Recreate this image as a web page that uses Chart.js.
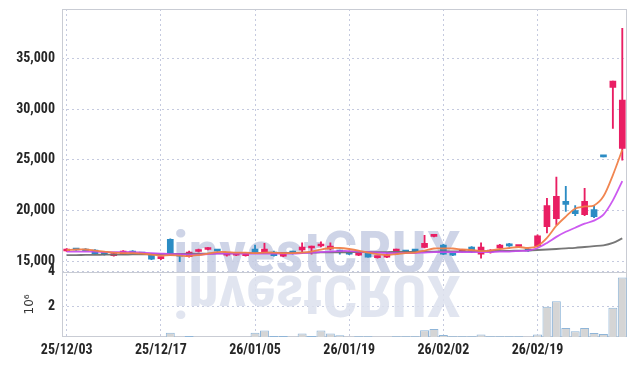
<!DOCTYPE html>
<html lang="en">
<head>
<meta charset="UTF-8">
<title>investCRUX candle chart</title>
<script src="https://cdn.jsdelivr.net/npm/chart.js"></script>
<style>
  html, body { margin: 0; padding: 0; background: #fff; }
  #wrap { width: 635px; height: 366px; position: relative; }
</style>
</head>
<body>
<div id="wrap"><canvas id="myChart"></canvas></div>
<script>
// trading days
const labels = [
  '25/12/03','25/12/04','25/12/05','25/12/08','25/12/09','25/12/10','25/12/11','25/12/12','25/12/15','25/12/16',
  '25/12/17','25/12/18','25/12/19','25/12/22','25/12/23','25/12/24','25/12/26','25/12/29','25/12/30','26/01/02',
  '26/01/05','26/01/06','26/01/07','26/01/08','26/01/09','26/01/12','26/01/13','26/01/14','26/01/15','26/01/16',
  '26/01/19','26/01/20','26/01/21','26/01/22','26/01/23','26/01/26','26/01/27','26/01/28','26/01/29','26/01/30',
  '26/02/02','26/02/03','26/02/04','26/02/05','26/02/06','26/02/09','26/02/10','26/02/11','26/02/12','26/02/13',
  '26/02/19','26/02/20','26/02/23','26/02/24','26/02/25','26/02/26','26/02/27','26/03/03','26/03/04','26/03/05'
];

const open = [
  16000,16150,16200,16100,15750,15550,15700,16000,15750,15700,
  15250,17150,15600,15450,15950,16150,16100,15600,15600,15550,
  16200,15900,15900,15500,15850,16100,16300,16500,16200,16000,
  15900,15600,15800,15350,15400,15850,15950,16050,16350,17450,
  16600,15700,15950,16400,15700,15900,16300,16700,16450,16200,
  16500,18400,19200,20900,20000,19600,20100,25400,32160,26130
];
const high = [
  16250,16200,16250,16150,15800,15800,16050,16050,15800,15750,
  15400,17200,15650,16000,16200,16350,16150,15800,15800,15800,
  16600,16750,16000,15650,16000,16800,16500,16900,16800,16100,
  16000,15800,15850,15450,15700,16200,16000,16150,17550,17600,
  16650,15750,16150,16450,16800,16150,16650,16750,16550,16250,
  17600,21200,23300,22400,20500,22200,20500,25400,32780,38000
];
const low = [
  15950,16050,16000,15700,15600,15500,15650,15750,15650,15150,
  15150,15550,14950,15400,15900,16100,15950,15500,15550,15500,
  15900,15850,15500,15450,15700,15800,15700,16400,16100,15700,
  15650,15550,15400,15300,15350,15800,15850,15950,16300,17400,
  15650,15550,15900,15850,15300,15800,16250,16450,16400,15950,
  16400,17800,18600,19900,19500,19500,19300,25300,28110,24980
];
const close = [
  16200,16100,16000,15750,15650,15750,16000,15800,15700,15200,
  15300,15600,15500,15900,16100,16200,16000,15750,15750,15700,
  15900,16200,15550,15600,15800,16400,16400,16600,16500,15900,
  15700,15800,15400,15400,15650,16200,15900,16000,16750,17500,
  15700,15600,16100,15900,16400,16100,16600,16500,16550,16000,
  17500,20500,21400,20600,19700,20900,19400,25300,32780,30900
];

// moving averages
const maShort = [
  16100,16150,16150,16050,15950,15850,15800,15800,15750,15650,
  15550,15600,15550,15500,15600,15750,15900,15900,15850,15850,
  15800,15850,15850,15800,15800,15850,15950,16150,16300,16300,
  16200,16050,15850,15700,15600,15700,15800,15850,16050,16250,
  16250,16250,16150,16100,16000,16050,16200,16300,16400,16300,
  16500,17300,18500,19400,20200,20400,20500,21400,23500,26000
];
const maMid = [
  15950,15950,15950,15950,15900,15900,15900,15900,15850,15800,
  15750,15700,15700,15650,15650,15700,15750,15750,15750,15750,
  15750,15750,15750,15750,15750,15800,15850,15900,15950,16000,
  16000,15950,15900,15850,15800,15800,15800,15800,15850,15900,
  15900,15900,15900,15900,15900,15900,15950,15950,16000,16050,
  16300,16800,17400,17900,18300,18700,19000,19600,21000,22900
];
const maLong = [
  15600,15600,15620,15620,15640,15650,15650,15660,15680,15680,
  15700,15700,15720,15730,15730,15750,15760,15760,15780,15790,
  15800,15800,15810,15820,15830,15840,15850,15860,15870,15880,
  15880,15890,15890,15900,15900,15910,15920,15930,15940,15950,
  15960,15960,15970,15980,15990,16000,16010,16020,16040,16060,
  16100,16150,16200,16260,16320,16400,16480,16560,16800,17250
];

// volume in millions
const volume = [
  0.1,0.1,0.1,0.1,0.1,0.1,0.1,0.1,0.1,0.1,
  0.1,0.45,0.1,0.26,0.1,0.1,0.1,0.1,0.1,0.1,
  0.45,0.58,0.26,0.26,0.1,0.4,0.26,0.58,0.4,0.3,
  0.1,0.24,0.24,0.1,0.1,0.24,0.24,0.24,0.59,0.67,
  0.32,0.24,0.24,0.24,0.35,0.24,0.24,0.24,0.24,0.1,
  0.35,1.96,2.29,0.73,0.53,0.73,0.44,0.38,1.9,3.67
];

const priceTicks = [15000, 20000, 25000, 30000, 35000];
const volumeTicks = [2, 4];

const upColor = '#e91e63';
const downColor = '#2b8cc4';
const gridColor = '#c5cadf';
const candleColor = ctx => close[ctx.dataIndex] >= open[ctx.dataIndex] ? upColor : downColor;

// watermark + frame
const decor = {
  id: 'decor',
  beforeDatasetsDraw(chart) {
    const { ctx, chartArea: a } = chart;
    const sep = chart.scales.yv.top;
    ctx.save();
    ctx.font = 'bold 58px "Roboto Condensed"';
    const w = ctx.measureText('investCRUX').width;
    const cx = 317;
    ctx.textAlign = 'center';
    ctx.textBaseline = 'alphabetic';
    // main text
    ctx.save();
    ctx.translate(cx, sep);
    ctx.scale(288 / w, 1);
    ctx.fillStyle = 'rgba(198,204,227,0.85)';
    ctx.fillText('investCRUX', 0, 0);
    ctx.restore();
    // reflection
    ctx.save();
    ctx.beginPath();
    ctx.rect(a.left, sep, a.width, a.bottom - sep);
    ctx.clip();
    ctx.translate(cx, sep + 4);
    ctx.scale(288 / w, -1);
    ctx.fillStyle = 'rgba(220,224,237,0.85)';
    ctx.fillText('investCRUX', 0, 0);
    ctx.restore();

    // frame and pane separator
    ctx.strokeStyle = '#c9ccd4';
    ctx.lineWidth = 1;
    ctx.strokeRect(Math.round(a.left) + 0.5, Math.round(a.top) + 0.5,
      Math.round(a.width) - 1, Math.round(a.height) - 1);
    ctx.beginPath();
    ctx.moveTo(a.left, Math.round(sep) + 0.5);
    ctx.lineTo(a.right, Math.round(sep) + 0.5);
    ctx.stroke();
    ctx.restore();
  }
};

const tickFont = { family: '"Roboto Condensed", sans-serif', size: 14, weight: 'bold' };
const fitLeft = s => { s.width = 62; s.paddingTop = 0; s.paddingBottom = 0; };

new Chart(document.getElementById('myChart'), {
  type: 'bar',
  data: {
    labels: labels,
    datasets: [
      { type: 'line', data: maShort, borderColor: 'rgba(240,128,72,0.95)', borderWidth: 1.8,
        pointRadius: 0, tension: 0.3, yAxisID: 'y', order: 0 },
      { type: 'line', data: maMid, borderColor: 'rgba(198,72,238,0.9)', borderWidth: 1.8,
        pointRadius: 0, tension: 0.3, yAxisID: 'y', order: 0 },
      { type: 'line', data: maLong, borderColor: 'rgba(112,112,112,0.95)', borderWidth: 1.8,
        pointRadius: 0, tension: 0.3, yAxisID: 'y', order: 0 },
      { data: labels.map((_, i) => [open[i], close[i]]), backgroundColor: candleColor,
        barThickness: 6, minBarLength: 2, grouped: false, yAxisID: 'y', order: 1 },
      { data: labels.map((_, i) => [low[i], high[i]]), backgroundColor: candleColor,
        barThickness: 1.2, grouped: false, yAxisID: 'y', order: 2 },
      { data: volume, backgroundColor: '#d5d5d5', borderColor: '#8fb5d8', borderWidth: 1,
        barPercentage: 0.95, categoryPercentage: 1, grouped: false, yAxisID: 'yv', order: 3, clip: 0 }
    ]
  },
  options: {
    responsive: true,
    maintainAspectRatio: false,
    animation: false,
    layout: { padding: { top: 9, right: 8, left: 0, bottom: 0 } },
    plugins: { legend: { display: false }, tooltip: { enabled: false } },
    scales: {
      x: {
        type: 'category',
        offset: true,
        afterFit: s => { s.height = 29; s.paddingLeft = 0; s.paddingRight = 0; },
        border: { display: false, dash: [2, 3] },
        grid: { color: gridColor, drawTicks: false, offset: false },
        ticks: {
          autoSkip: false, maxRotation: 0, padding: 5, color: '#262626', font: tickFont,
          callback: function (v, i) { return i % 10 === 0 ? this.getLabelForValue(v) : null; }
        }
      },
      y: {
        position: 'left', stack: 'pane', stackWeight: 4.03, weight: 1,
        min: 13950, max: 39900,
        afterFit: fitLeft,
        afterBuildTicks: s => { s.ticks = priceTicks.map(v => ({ value: v })); },
        border: { display: false, dash: [2, 3] },
        grid: { color: gridColor, drawTicks: false },
        ticks: {
          padding: 7, color: '#262626', font: tickFont,
          callback: v => v.toLocaleString('en-US')
        }
      },
      yv: {
        position: 'left', stack: 'pane', stackWeight: 1, weight: 0,
        min: 0.2, max: 4,
        afterFit: fitLeft,
        afterBuildTicks: s => { s.ticks = volumeTicks.map(v => ({ value: v })); },
        border: { display: false, dash: [2, 3] },
        grid: { color: gridColor, drawTicks: false },
        title: { display: true, text: '10\u2076', color: '#333',
          font: { family: '"DejaVu Sans", sans-serif', size: 12 }, padding: { top: 23, bottom: 0 } },
        ticks: {
          padding: 7, color: '#262626', font: tickFont,
          callback: v => String(v)
        }
      }
    }
  },
  plugins: [decor]
});
</script>
</body>
</html>
